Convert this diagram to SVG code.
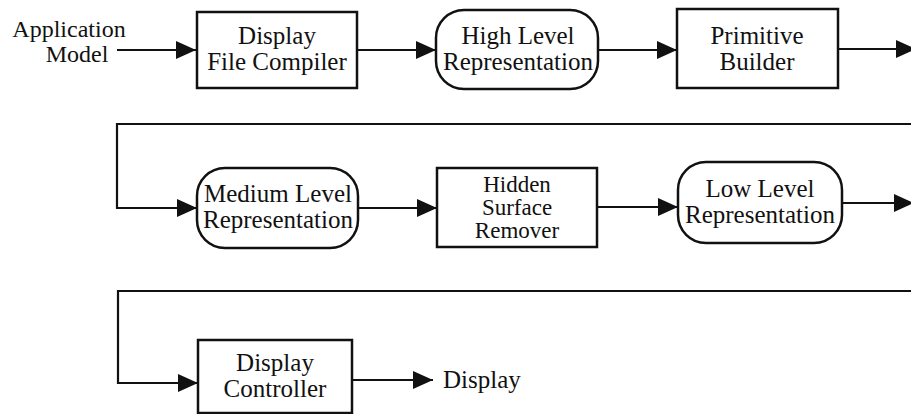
<svg xmlns="http://www.w3.org/2000/svg" width="911" height="414" viewBox="0 0 911 414">
  <style>
    text { font-size: 25px; fill: #111; text-anchor: middle; }
    .lbl { font-size: 24px; }
    .small { font-size: 23px; }
    .box { fill: #fff; stroke: #111; stroke-width: 2.5; }
    .conn { fill: none; stroke: #111; stroke-width: 2.2; }
  </style>
  <defs>
    <marker id="arrow" markerUnits="userSpaceOnUse" markerWidth="21" markerHeight="18" refX="20" refY="9" orient="auto">
      <path d="M0,0 L20,9 L0,18 z" fill="#111"/>
    </marker>
  </defs>
  <rect width="911" height="414" fill="#fff"/>

  <g id="connectors">
    <path class="conn" d="M117,50 L196,50" marker-end="url(#arrow)"/>
    <path class="conn" d="M357,50 L436,50" marker-end="url(#arrow)"/>
    <path class="conn" d="M597,50 L677,50" marker-end="url(#arrow)"/>
    <path class="conn" d="M838,49 L916,49" marker-end="url(#arrow)"/>
    <path class="conn" d="M911,124 L117,124 L117,208 L197,208" marker-end="url(#arrow)"/>
    <path class="conn" d="M358,208 L437,208" marker-end="url(#arrow)"/>
    <path class="conn" d="M597,207 L678,207" marker-end="url(#arrow)"/>
    <path class="conn" d="M842,203 L914,203" marker-end="url(#arrow)"/>
    <path class="conn" d="M911,291 L118,291 L118,383 L198,383" marker-end="url(#arrow)"/>
    <path class="conn" d="M352,380 L433,380" marker-end="url(#arrow)"/>
  </g>

  <g id="application-model" font-family="Liberation Serif">
    <text class="lbl" x="69" y="37">Application</text>
    <text class="lbl" x="77" y="62">Model</text>
  </g>

  <g id="display-file-compiler" font-family="Liberation Serif">
    <rect class="box" x="197" y="12" width="160" height="76"/>
    <text x="277" y="44">Display</text>
    <text x="277" y="70">File Compiler</text>
  </g>

  <g id="high-level-representation" font-family="Liberation Serif">
    <rect class="box" x="436" y="10" width="162" height="79" rx="28" ry="28"/>
    <text x="518" y="44">High Level</text>
    <text x="518" y="70">Representation</text>
  </g>

  <g id="primitive-builder" font-family="Liberation Serif">
    <rect class="box" x="677" y="9" width="161" height="79"/>
    <text x="757" y="44">Primitive</text>
    <text x="757" y="70">Builder</text>
  </g>

  <g id="medium-level-representation" font-family="Liberation Serif">
    <rect class="box" x="197" y="168" width="161" height="80" rx="28" ry="28"/>
    <text x="278" y="202">Medium Level</text>
    <text x="278" y="228">Representation</text>
  </g>

  <g id="hidden-surface-remover" font-family="Liberation Serif">
    <rect class="box" x="437" y="168" width="160" height="79"/>
    <text class="small" x="517" y="192">Hidden</text>
    <text class="small" x="517" y="215">Surface</text>
    <text class="small" x="517" y="238">Remover</text>
  </g>

  <g id="low-level-representation" font-family="Liberation Serif">
    <rect class="box" x="678" y="162" width="164" height="81" rx="28" ry="28"/>
    <text x="760" y="197">Low Level</text>
    <text x="760" y="223">Representation</text>
  </g>

  <g id="display-controller" font-family="Liberation Serif">
    <rect class="box" x="198" y="340" width="154" height="73"/>
    <text x="275" y="371">Display</text>
    <text x="275" y="397">Controller</text>
  </g>

  <g id="display" font-family="Liberation Serif">
    <text x="443" y="388" style="text-anchor:start">Display</text>
  </g>
</svg>
